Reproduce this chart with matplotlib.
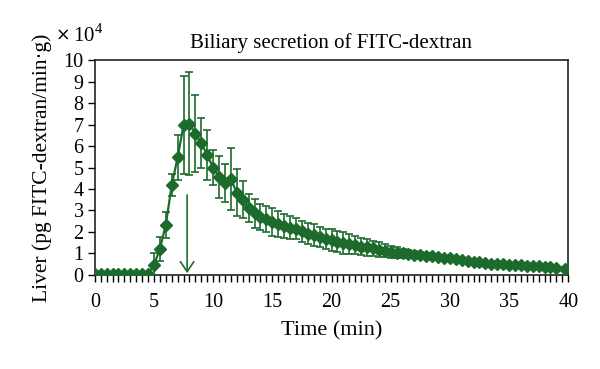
import matplotlib
matplotlib.use("Agg")
import matplotlib.pyplot as plt
from matplotlib.ticker import MultipleLocator

# ---- data (values in units of 10^4 pg FITC-dextran / min·g) ----
times = [i * 0.5 for i in range(79)] + [39.75]
secretion = [
    0.06, 0.06, 0.06, 0.06, 0.06, 0.06, 0.06, 0.06, 0.06, 0.06,   # 0-4.5
    0.45, 1.22, 2.33, 4.18, 5.48, 6.97, 7.03, 6.58, 6.14, 5.58,   # 5-9.5
    5.00, 4.57, 4.29, 4.45, 3.83, 3.50, 3.12, 2.87, 2.71, 2.59,   # 10-14.5
    2.48, 2.37, 2.28, 2.20, 2.15, 2.03, 1.92, 1.86, 1.76, 1.67,   # 15-19.5
    1.62, 1.55, 1.48, 1.44, 1.38, 1.32, 1.28, 1.24, 1.18, 1.13,   # 20-24.5
    1.08, 1.04, 1.00, 0.97, 0.95, 0.92, 0.90, 0.87, 0.84, 0.81,   # 25-29.5
    0.78, 0.74, 0.70, 0.66, 0.62, 0.58, 0.55, 0.53, 0.51, 0.50,   # 30-34.5
    0.48, 0.46, 0.45, 0.43, 0.42, 0.40, 0.38, 0.36, 0.34, 0.29,   # 35-39.75
]
errors = [
    0.05, 0.05, 0.05, 0.05, 0.05, 0.05, 0.05, 0.05, 0.05, 0.05,
    0.57, 0.55, 0.62, 0.50, 1.05, 2.28, 2.40, 1.80, 1.15, 1.16,
    0.80, 0.97, 0.88, 1.45, 1.10, 0.85, 0.65, 0.68, 0.60, 0.60,
    0.65, 0.60, 0.55, 0.55, 0.50, 0.50, 0.50, 0.50, 0.48, 0.45,
    0.50, 0.48, 0.50, 0.45, 0.42, 0.40, 0.38, 0.36, 0.36, 0.30,
    0.28, 0.25, 0.22, 0.20, 0.17, 0.15, 0.12, 0.10, 0.10, 0.08,
    0.06, 0.06, 0.06, 0.06, 0.06, 0.06, 0.06, 0.06, 0.06, 0.06,
    0.06, 0.06, 0.06, 0.06, 0.06, 0.06, 0.06, 0.06, 0.06, 0.06,
]
arrow_time = 7.8
arrow_top = 3.72
arrow_bottom = 0.08

title = "Biliary secretion of FITC-dextran"
xlabel = "Time (min)"
ylabel = "Liver (pg FITC-dextran/min\u00b7g)"
xticks = [0, 5, 10, 15, 20, 25, 30, 35, 40]
yticks = list(range(0, 11))

green = "#1c6b2c"
plt.rcParams['font.family'] = ['Liberation Serif', 'DejaVu Serif']
plt.rcParams['mathtext.fontset'] = 'custom'
plt.rcParams['mathtext.rm'] = 'Liberation Serif'

fig = plt.figure(figsize=(6.0, 3.69), dpi=100)
ax = fig.add_axes([0.158, 0.255, 0.789, 0.582])

ax.errorbar(times, secretion, yerr=errors, color=green, ecolor=green,
            marker='D', markersize=5.8, linewidth=1.6, elinewidth=1.2,
            capsize=3.0, capthick=1.2, zorder=3, clip_on=True)

ax.annotate("", xy=(arrow_time, arrow_bottom), xytext=(arrow_time, arrow_top),
            arrowprops=dict(arrowstyle='->,head_length=0.45,head_width=0.3',
                            color=green, lw=1.2,
                            mutation_scale=16, shrinkA=0, shrinkB=0))

ax.set_xlim(0, 40)
ax.set_ylim(0, 10)
ax.set_xticks(xticks)
ax.set_yticks(yticks)
ax.xaxis.set_minor_locator(MultipleLocator(0.5))
ax.tick_params(axis='x', which='both', direction='out', length=5, width=1.0,
               labelsize=14.5, colors='black', pad=8)
ax.tick_params(axis='y', which='major', direction='out', length=5, width=1.0,
               labelsize=14.5, pad=3)
for sp in ax.spines.values():
    sp.set_linewidth(1.2)
    sp.set_color('#222222')

ax.set_title(title, fontsize=15, pad=9)
ax.set_xlabel(xlabel, fontsize=16, labelpad=7)
ax.set_ylabel(ylabel, fontsize=15.5, labelpad=8)
fig.text(0.093, 0.905, "\u00d7", fontsize=12.5, family='DejaVu Sans',
         ha='left', va='center')
fig.text(0.122, 0.905, "10$^{4}$", fontsize=15, ha='left', va='center')

fig.savefig("out.png", dpi=100)
